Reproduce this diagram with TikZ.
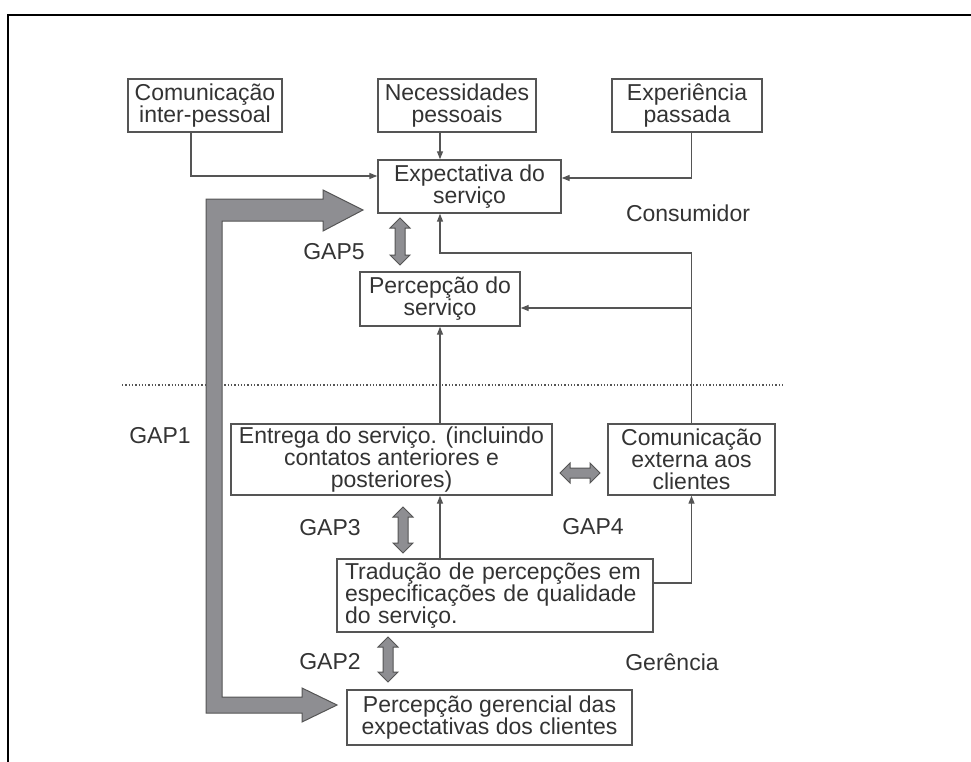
\documentclass[tikz,border=0pt]{standalone}
\usepackage{fontspec}
\setmainfont{Liberation Sans}
\usetikzlibrary{arrows.meta}
\definecolor{txt}{HTML}{333333}
\definecolor{ln}{HTML}{555555}
\definecolor{gapfill}{HTML}{8E8E92}
\newcommand\vdarrow[3]{%
  \filldraw[gaparrow] (#1,#2) -- ({#1+10},{#2+10}) -- ({#1+5},{#2+10}) -- ({#1+5},{#3-10}) -- ({#1+10},{#3-10}) -- (#1,#3) -- ({#1-10},{#3-10}) -- ({#1-5},{#3-10}) -- ({#1-5},{#2+10}) -- ({#1-10},{#2+10}) -- cycle;}
\newcommand\hdarrow[3]{%
  \filldraw[gaparrow] (#2,#1) -- ({#2+10},{#1-10}) -- ({#2+10},{#1-5}) -- ({#3-10},{#1-5}) -- ({#3-10},{#1-10}) -- (#3,#1) -- ({#3-10},{#1+10}) -- ({#3-10},{#1+5}) -- ({#2+10},{#1+5}) -- ({#2+10},{#1+10}) -- cycle;}
\begin{document}
\begin{tikzpicture}[x=1pt,y=-1pt,
  every node/.style={font=\fontsize{23}{22}\selectfont, text=txt},
  box/.style={draw=ln, line width=1.4pt, align=center, inner sep=0pt, minimum height=#1},
  box/.default=53pt,
  arr/.style={draw=ln, line width=1.3pt, -{Triangle[length=8pt,width=6pt]}},
  conn/.style={draw=ln, line width=1.3pt},
  gaparrow/.style={fill=gapfill, draw=ln, line width=1pt, line join=miter},
  lbl/.style={inner sep=0pt}]
\useasboundingbox (0,0) rectangle (971,762);
% frame
\draw[black, line width=2.5pt] (7,15) -- (971,15);
\draw[black, line width=2.5pt] (8,15) -- (8,762);

% boxes
\node[box, minimum width=154pt] (com) at (205,105.5) {Comunicação\\inter-pessoal};
\node[box, minimum width=158pt] (nec) at (457,105.5) {Necessidades\\pessoais};
\node[box, minimum width=150pt] (exp) at (687,105.5) {Experiência\\passada};
\node[box, minimum width=183pt] (expec) at (469.5,186.5) {Expectativa do\\serviço};
\node[box, minimum width=160pt, minimum height=54pt] (perc) at (440,299) {Percepção do\\serviço};
\node[box, minimum width=321pt, minimum height=71pt] (entrega) at (391.5,459.5) {Entrega do serviço. (incluindo\\contatos anteriores e\\posteriores)};
\node[box, minimum width=167pt, minimum height=71pt] (comext) at (691.5,459.5) {Comunicação\\externa aos\\clientes};
\node[box, minimum width=316pt, minimum height=73pt, text width=300pt, align=left] (trad) at (495,595.5) {Tradução de percepções em\\especificações de qualidade\\do serviço.};
\node[box, minimum width=285pt, minimum height=55pt] (pger) at (489.5,717.5) {Percepção gerencial das\\expectativas dos clientes};

% labels
\node[lbl] (cons) at (688,213) {Consumidor};
\node[lbl] (ger) at (672,662) {Gerência};
\node[lbl] (g1) at (160,436) {GAP1};
\node[lbl] (g2) at (330,662) {GAP2};
\node[lbl] (g3) at (330,528) {GAP3};
\node[lbl] (g4) at (593,527) {GAP4};
\node[lbl] (g5) at (334,252) {GAP5};

% dotted separator
\draw[ln, line width=1.3pt, dotted] (122,385) -- (783,385);

% connectors
\draw[arr] ([xshift=-14pt]com.south) |- ([yshift=10.5pt]expec.west);
\draw[arr] (nec.south -| perc.north) -- (expec.north -| perc.north);
\draw[arr] (exp.south -| comext.north) |- ([yshift=8.5pt]expec.east);
\coordinate (fb) at (691.5,253);
\coordinate (fbp) at (691.5,308);
\draw[arr] (comext.north) -- (fb) -| (expec.south -| perc.north);
\draw[arr] (fbp) -- (fbp -| perc.east);
\draw[arr] (entrega.north -| perc.south) -- (perc.south);
\draw[arr] (trad.north -| perc.south) -- (entrega.south -| perc.south);
\draw[arr] ([yshift=12.5pt]trad.east) -| (comext.south);

% big GAP1 arrow
\filldraw[gaparrow] (206,713) -- (206,199) -- (323,199) -- (323,190) -- (363,210) -- (323,231) -- (323,221) -- (222,221) -- (222,697) -- (302,697) -- (302,688) -- (337,705) -- (302,722) -- (302,713) -- cycle;

% gap double arrows
\vdarrow{400}{218}{265}
\vdarrow{403}{507}{553}
\vdarrow{388}{637}{682}
\hdarrow{473}{560}{600}
\end{tikzpicture}
\end{document}
